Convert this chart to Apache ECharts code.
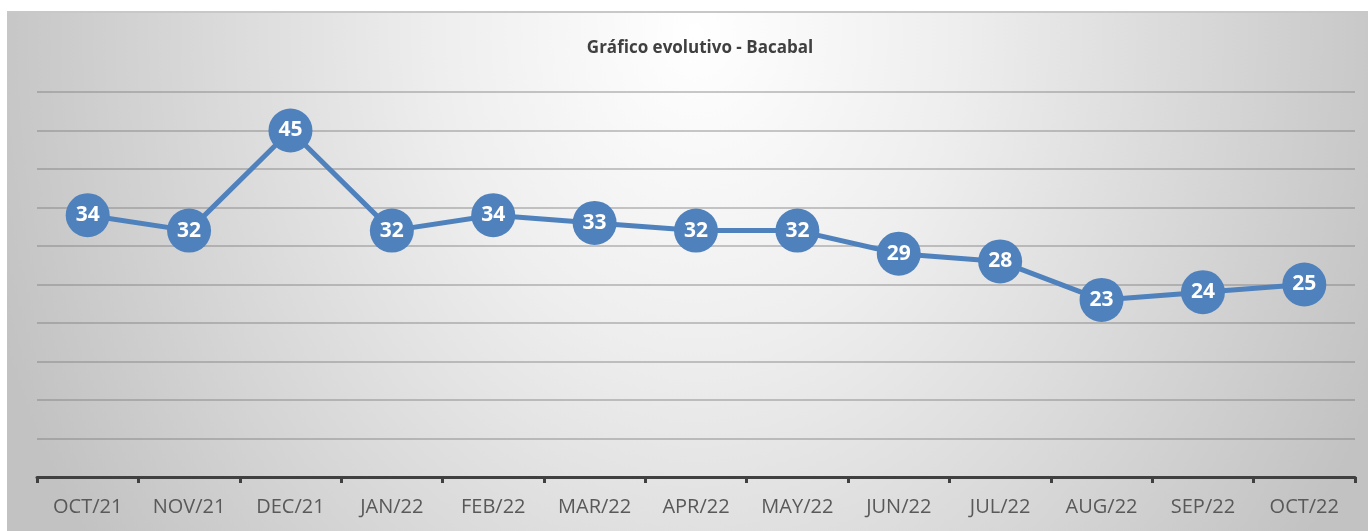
<!DOCTYPE html>
<html>
<head>
<meta charset="utf-8">
<script src="https://cdn.jsdelivr.net/npm/echarts@6/dist/echarts.min.js"></script>
<style>
  html, body { margin: 0; padding: 0; background: #fff; }
  #main {
    position: absolute;
    left: 7px; top: 11px;
    width: 1361px; height: 520px;
    border-top: 2px solid #c8c8c8;
    box-sizing: border-box;
    background: radial-gradient(ellipse 740px 900px at 690px 20px, #ffffff 0%, #eeeeee 35%, #c2c2c2 100%);
  }
</style>
</head>
<body>
<div id="main"></div>
<script>
let mychart = echarts.init(document.getElementById('main'));

// months on the x axis
let months = ['OCT/21', 'NOV/21', 'DEC/21', 'JAN/22', 'FEB/22', 'MAR/22', 'APR/22',
    'MAY/22', 'JUN/22', 'JUL/22', 'AUG/22', 'SEP/22', 'OCT/22']
let values = [34, 32, 45, 32, 34, 33, 32, 32, 29, 28, 23, 24, 25]

let option = {
    title: {
        text: 'Gráfico evolutivo - Bacabal',
        left: 688,
        top: 22,
        textAlign: 'center',
        textStyle: {
            fontFamily: 'Open Sans',
            fontSize: 17,
            fontWeight: 'bold',
            color: '#404040'
        }
    },
    grid: {
        left: 30,
        right: 13,
        top: 79,
        bottom: 54
    },
    xAxis: {
        type: 'category',
        data: months,
        boundaryGap: true,
        axisLine: {
            lineStyle: { color: '#404040', width: 3 }
        },
        axisTick: {
            show: true,
            length: 6,
            lineStyle: { color: '#404040', width: 3 }
        },
        axisLabel: {
            margin: 20,
            fontFamily: 'Open Sans',
            fontSize: 20,
            color: '#595959'
        }
    },
    yAxis: {
        type: 'value',
        min: 0,
        max: 50,
        interval: 5,
        axisLabel: { show: false },
        axisLine: { show: false },
        axisTick: { show: false },
        splitLine: {
            lineStyle: { color: 'rgba(120,120,120,0.4)', width: 2 }
        }
    },
    series: [{
        type: 'line',
        data: values,
        symbol: 'circle',
        symbolSize: 44,
        lineStyle: { color: '#4f81bd', width: 5 },
        itemStyle: { color: '#4f81bd' },
        label: {
            show: true,
            position: 'inside',
            color: '#fff',
            fontFamily: 'Open Sans',
            fontWeight: 'bold',
            fontSize: 21
        },
        animation: false
    }]
};
mychart.setOption(option);
</script>
</body>
</html>
